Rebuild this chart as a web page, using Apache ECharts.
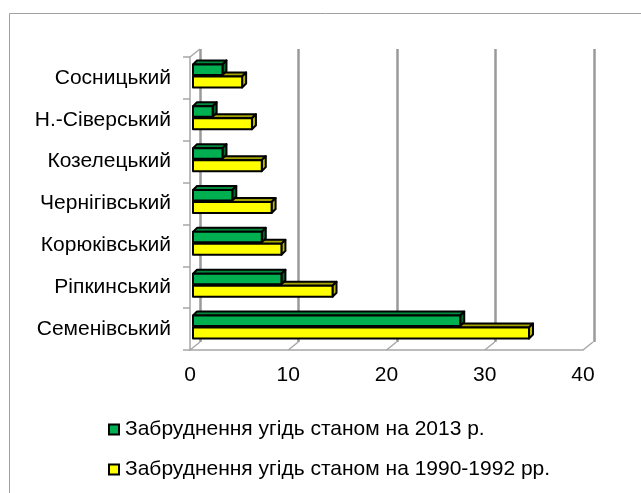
<!DOCTYPE html>
<html>
<head>
<meta charset="utf-8">
<script src="https://cdn.jsdelivr.net/npm/echarts@6/dist/echarts.min.js"></script>
<style>
  html, body { margin: 0; padding: 0; background: #fff; }
  #chart { width: 641px; height: 493px; }
</style>
</head>
<body>
<div id="chart"></div>
<script>
// дані
const districts = ["Сосницький", "Н.-Сіверський", "Козелецький", "Чернігівський", "Корюківський", "Ріпкинський", "Семенівський"]
const values2013 = [3, 2, 3, 4, 7, 9, 27.2]
const values1990 = [5, 6, 7, 8, 9, 14.2, 34.2]
const xTicks = [0, 10, 20, 30, 40]
const name2013 = "Забруднення угідь станом на 2013 р."
const name1990 = "Забруднення угідь станом на 1990-1992 рр."

const FONT = "'Liberation Sans', Arial, sans-serif"
const DEPTH_X = 10 // зсув задньої стінки
const DEPTH_Y = -8
const BAR_D = 4 // глибина бруска

// 3D брусок: передня грань + верх + бік
function barRenderer(colors, offsetTop, height) {
  return function (params, api) {
    const v = api.value(0)
    const i = api.value(1)
    const start = api.coord([0, i])
    const end = api.coord([v, i])
    const x0 = start[0] + 3
    const x1 = end[0] + 3
    const y0 = start[1] + offsetTop
    const y1 = y0 + height
    const stroke = { stroke: "#000", lineWidth: 2, lineJoin: "round" }
    return {
      type: "group",
      children: [
        {
          type: "polygon",
          shape: { points: [[x0, y0], [x0 + BAR_D, y0 - BAR_D], [x1 + BAR_D, y0 - BAR_D], [x1, y0]] },
          style: Object.assign({ fill: colors.top }, stroke)
        },
        {
          type: "polygon",
          shape: { points: [[x1, y0], [x1 + BAR_D, y0 - BAR_D], [x1 + BAR_D, y1 - BAR_D], [x1, y1]] },
          style: Object.assign({ fill: colors.side }, stroke)
        },
        {
          type: "rect",
          shape: { x: x0, y: y0, width: x1 - x0, height: height },
          style: Object.assign({ fill: colors.front }, stroke)
        }
      ]
    }
  }
}

// діагоналі підлоги та лівої стінки
function floorRenderer(params, api) {
  const p = api.coord([api.value(0), 0])
  const cs = params.coordSys
  const yb = cs.y + cs.height
  const lineStyle = { stroke: "#a6a6a6", lineWidth: 1.5 }
  const children = [{
    type: "line",
    shape: { x1: p[0], y1: yb, x2: p[0] + DEPTH_X, y2: yb + DEPTH_Y },
    style: lineStyle
  }]
  if (api.value(0) === 0) {
    children.push({
      type: "line",
      shape: { x1: p[0], y1: cs.y, x2: p[0] + DEPTH_X, y2: cs.y + DEPTH_Y },
      style: lineStyle
    })
  }
  return { type: "group", children }
}

const green = { front: "#00b050", top: "#008a3e", side: "#006b30" }
const yellow = { front: "#ffff00", top: "#a3a300", side: "#bdbd00" }

const chart = echarts.init(document.getElementById("chart"))
chart.setOption({
  animation: false,
  textStyle: { fontFamily: FONT },
  graphic: [{
    type: "rect",
    shape: { x: 9.5, y: 13.5, width: 700, height: 600 },
    style: { fill: "none", stroke: "#a0a0a0", lineWidth: 1 },
    silent: true
  }],
  grid: [
    { left: 190, right: 58, top: 57, bottom: 143 },
    { left: 200, right: 47, top: 49, bottom: 151 }
  ],
  xAxis: [
    {
      gridIndex: 0,
      type: "value",
      min: 0,
      max: 40,
      interval: 10,
      axisLine: { show: true, lineStyle: { color: "#a6a6a6", width: 1.5 } },
      axisTick: { show: false },
      splitLine: { show: false },
      axisLabel: { color: "#000", fontSize: 21, fontFamily: FONT, margin: 15 }
    },
    {
      gridIndex: 1,
      type: "value",
      min: 0,
      max: 40,
      interval: 10,
      axisLine: { show: false },
      axisTick: { show: false },
      axisLabel: { show: false },
      splitLine: { show: true, lineStyle: { color: "#9a9a9a", width: 2.5 } }
    }
  ],
  yAxis: [
    {
      gridIndex: 0,
      type: "category",
      inverse: true,
      data: districts,
      axisLine: { show: true, lineStyle: { color: "#a6a6a6", width: 1.5 } },
      axisTick: { show: true, length: 7, lineStyle: { color: "#a6a6a6", width: 1.5 } },
      axisLabel: { color: "#000", fontSize: 21, fontFamily: FONT, margin: 19 }
    },
    { gridIndex: 1, type: "value", show: false }
  ],
  legend: {
    orient: "vertical",
    left: 103,
    top: 414,
    itemWidth: 10,
    itemHeight: 10,
    itemGap: 19,
    icon: "rect",
    textStyle: { color: "#000", fontSize: 21, lineHeight: 21, fontFamily: FONT, padding: [0, 0, 0, 1] },
    data: [
      { name: name2013, itemStyle: { color: green.front, borderColor: "#000", borderWidth: 2 } },
      { name: name1990, itemStyle: { color: yellow.front, borderColor: "#000", borderWidth: 2 } }
    ]
  },
  series: [
    {
      name: "floor",
      type: "custom",
      xAxisIndex: 0,
      yAxisIndex: 0,
      silent: true,
      z: 1,
      encode: { x: 0, y: 1 },
      data: xTicks.map(v => [v, 0]),
      renderItem: floorRenderer
    },
    {
      name: name2013,
      type: "custom",
      xAxisIndex: 0,
      yAxisIndex: 0,
      z: 4,
      itemStyle: { color: green.front },
      encode: { x: 0, y: 1 },
      data: values2013.map((v, i) => [v, i]),
      renderItem: barRenderer(green, -13.5, 10.5)
    },
    {
      name: name1990,
      type: "custom",
      xAxisIndex: 0,
      yAxisIndex: 0,
      z: 3,
      itemStyle: { color: yellow.front },
      encode: { x: 0, y: 1 },
      data: values1990.map((v, i) => [v, i]),
      renderItem: barRenderer(yellow, -1.5, 11)
    }
  ]
})
</script>
</body>
</html>
